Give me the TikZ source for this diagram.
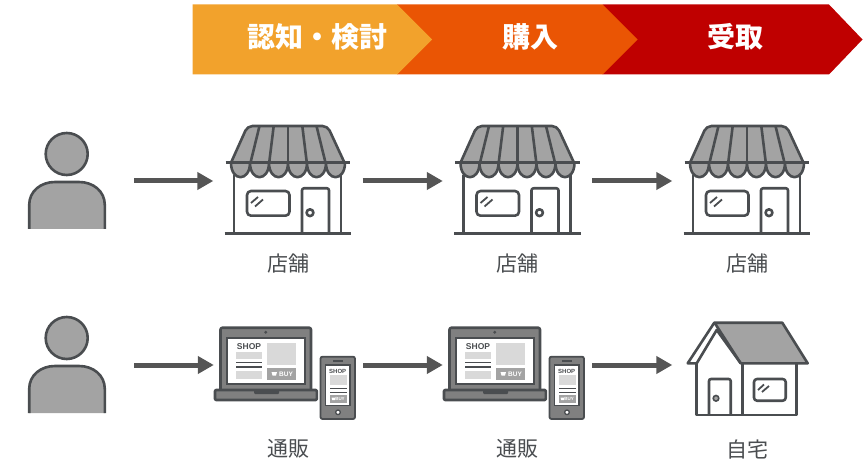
\documentclass[tikz,border=0pt]{standalone}
\usepackage{fontspec}
\setmainfont{Liberation Sans}
\newfontfamily\jpfont{Noto Sans CJK JP}
\usetikzlibrary{positioning,arrows.meta}
\definecolor{flowYellow}{HTML}{F2A22C}
\definecolor{flowOrange}{HTML}{EA5504}
\definecolor{flowRed}{HTML}{BF0000}
\definecolor{iconLine}{HTML}{4A4D50}
\definecolor{iconFill}{HTML}{A3A3A3}
\definecolor{iconPale}{HTML}{D9D9D9}
\definecolor{iconBody}{HTML}{808080}
\definecolor{flowArrow}{HTML}{555555}
\tikzset{
  icon box/.style={
    rectangle, minimum width=#1, minimum height=120pt, inner sep=0pt,
  },
  icon line/.style={
    draw=iconLine, line width=2.6pt, line join=round,
  },
  thin line/.style={
    draw=iconLine, line width=1.4pt,
  },
  flow arrow/.style={
    draw=flowArrow, line width=5pt,
    -{Triangle[length=16pt,width=17pt]},
  },
  head label/.style={
    font=\jpfont\bfseries\fontsize{28}{28}\selectfont, text=white, inner sep=0pt,
  },
  place label/.style={
    font=\jpfont\fontsize{21}{21}\selectfont, text=iconLine, inner sep=0pt,
  },
  % person with open lower edge
  person/.pic={
    \draw[icon line, fill=iconFill] (-0.3,-27) circle (21);
    \draw[icon line, fill=iconFill] (-37.8,48) -- (-37.8,24)
      .. controls (-37.8,10) and (-26,1) .. (-12,1) -- (12,1)
      .. controls (26,1) and (37.8,10) .. (37.8,24) -- (37.8,48);
  },
  % storefront with striped awning
  shop/.pic={
    \draw[icon line] (-54,-6) -- (-54,52) (53,-6) -- (53,52);
    \draw[icon line, rounded corners=4pt] (-41,10) rectangle (1.5,34.7);
    \draw[icon line, rounded corners=2pt] (14,52) -- (14,7.3) -- (41,7.3) -- (41,52);
    \draw[icon line] (22,31.7) circle (3.4);
    \draw[iconLine, line width=1.8pt] (-37,22) -- (-30,16) (-33,25.5) -- (-25,18.5);
    \foreach \sx in {-57,-38,-19,0,19,38} {
      \draw[icon line, fill=iconFill] (\sx,-18.3)
        .. controls (\sx,1) and (\sx+19,1) .. (\sx+19,-18.3);
    }
    \draw[icon line, fill=iconFill, rounded corners=5pt] (-57,-18.3) -- (-40.5,-55) -- (39.5,-55) -- (56.5,-18.3);
    \foreach \tx/\bx in {-28.5/-37.5, -14.3/-18.8, 0/0, 14.3/18.8, 28.5/37.5} {
      \draw[icon line] (\tx,-55) -- (\bx,-18.3);
    }
    \draw[icon line] (-62.5,-18.3) -- (62,-18.3);
    \draw[icon line] (-63.5,52.3) -- (63.3,52.3);
  },
  % laptop and phone showing a shop page
  devices/.pic={
    \draw[icon line, fill=iconBody, rounded corners=2pt] (-68,25) -- (-68,-37.3) -- (22.5,-37.3) -- (22.5,25);
    \draw[iconLine, fill=white, line width=1.6pt] (-61.8,-27.3) rectangle (16.5,19);
    \fill[iconLine] (-22.8,-32.7) circle (1.6);
    \draw[icon line, fill=iconBody, rounded corners=1pt] (-73.5,25) rectangle (28.3,35);
    \fill[iconLine, rounded corners=1pt] (-34.5,24) rectangle (-9.5,29);
    \node[font=\bfseries\fontsize{8.5}{8.5}\selectfont, text=iconLine, inner sep=0pt] (lapshop) at (-39.5,-18.7) {SHOP};
    \fill[iconPale] (-52.8,-13.3) rectangle (-26.8,-6);
    \draw[thin line] (-52.5,-2.7) -- (-27,-2.7) (-52.5,2) -- (-27,2);
    \fill[iconPale] (-52.8,5.7) rectangle (-26.8,14.3);
    \fill[iconPale] (-22,-21.7) rectangle (7.2,0);
    \fill[iconFill] (-22,3.3) rectangle (7.2,15);
    \fill[white] (-17,7) -- (-11.5,7) -- (-12.5,10.5) -- (-16,10.5) -- cycle;
    \node[font=\bfseries\fontsize{6.5}{6.5}\selectfont, text=white, inner sep=0pt] (lapbuy) at (-2.5,9.2) {BUY};
    \draw[icon line, fill=iconBody, rounded corners=2pt, line width=1.8pt] (32,-8.3) rectangle (66.5,54);
    \draw[iconLine, fill=white, line width=1.3pt] (37,0) rectangle (61.5,40.7);
    \draw[iconLine, line width=1.2pt] (44.5,-4) -- (54.5,-4);
    \draw[iconLine, fill=white, line width=1.3pt] (49.5,47.3) circle (2.3);
    \node[font=\bfseries\fontsize{6}{6}\selectfont, text=iconLine, inner sep=0pt] (phoneshop) at (49.2,6) {SHOP};
    \fill[iconPale] (41.5,10) rectangle (58.5,20);
    \draw[iconLine, line width=1pt] (41.5,23.3) -- (58.5,23.3) (41.5,27) -- (58.5,27);
    \fill[iconFill] (41.5,30.3) rectangle (58.5,37.7);
    \node[font=\bfseries\fontsize{4.5}{4.5}\selectfont, text=white, inner sep=0pt] (phonebuy) at (51.5,34) {BUY};
    \fill[white] (43,32.5) -- (47,32.5) -- (46.3,35.2) -- (43.7,35.2) -- cycle;
  },
  % house with pitched roof
  house/.pic={
    \draw[icon line] (-50.3,-1.7) -- (-50.3,50) -- (49.7,50) -- (49.7,-1.7);
    \draw[icon line] (-4.3,-1.7) -- (-4.3,50);
    \draw[icon line, rounded corners=2pt] (-38,50) -- (-38,14) -- (-16.3,14) -- (-16.3,50);
    \draw[iconLine, fill=iconFill, line width=1.6pt] (-31,33.3) circle (2.8);
    \draw[icon line, rounded corners=3pt] (7,14) rectangle (38.7,35.7);
    \draw[iconLine, line width=1.8pt] (11,25) -- (17,19.5) (15,27) -- (22,21);
    \draw[icon line, fill=iconFill] (-31,-40) -- (-32.7,-42.3) -- (35.3,-42.3) -- (60.7,-1.7) -- (-6.3,-1.7) -- cycle;
    \draw[icon line] (-32.7,-42.3) -- (-59.3,-1.7) -- (-50.3,-1.7) -- (-30.3,-35) -- (-6.3,-1.7);
  },
}

\begin{document}
\begin{tikzpicture}[x=1pt,y=-1pt]
\useasboundingbox (0,0) rectangle (863,476);

% Stage banner, drawn back to front
\fill[flowRed] (602.7,4.5) -- (829,4.5) -- (862.5,39.5) -- (829,74.5) -- (602.7,74.5) -- cycle;
\fill[flowOrange] (397,4.5) -- (602.7,4.5) -- (637.6,39.5) -- (602.7,74.5) -- (397,74.5) -- cycle;
\fill[flowYellow] (192.6,4.5) -- (397,4.5) -- (432,39.5) -- (397,74.5) -- (192.6,74.5) -- cycle;
\node[head label] (stage1) at (317.5,37) {認知・検討};
\node[head label] (stage2) at (530,37) {購入};
\node[head label] (stage3) at (735.5,37) {受取};

% Icon slots, one row each
\node[icon box=134pt] (buyerA) at (67,181) {};
\node[icon box=149pt] (shopA) at (288,181) {};
\node[icon box=149pt] (shopB) at (517.5,181) {};
\node[icon box=149pt] (shopC) at (747,181) {};
\node[icon box=134pt] (buyerB) at (67,365) {};
\node[icon box=149pt] (mailA) at (288.5,365) {};
\node[icon box=149pt] (mailB) at (517.5,365) {};
\node[icon box=149pt] (home) at (747,365) {};

\pic at (buyerA) {person};
\pic at (buyerB) {person};
\foreach \n in {shopA, shopB, shopC} {
  \pic at (\n) {shop};
}
\foreach \n in {mailA, mailB} {
  \pic at (\n) {devices};
}
\pic at (home) {house};

% Arrows between slots
\foreach \a/\b in {buyerA/shopA, shopA/shopB, shopB/shopC,
                   buyerB/mailA, mailA/mailB, mailB/home} {
  \draw[flow arrow] (\a) -- (\b);
}

% Labels
\node[place label, below=12pt of shopA] (labA) {店舗};
\node[place label, below=12pt of shopB] (labB) {店舗};
\node[place label, below=12pt of shopC] (labC) {店舗};
\node[place label, below=14pt of mailA] (labD) {通販};
\node[place label, below=14pt of mailB] (labE) {通販};
\node[place label, below=14pt of home] (labF) {自宅};
\end{tikzpicture}
\end{document}
